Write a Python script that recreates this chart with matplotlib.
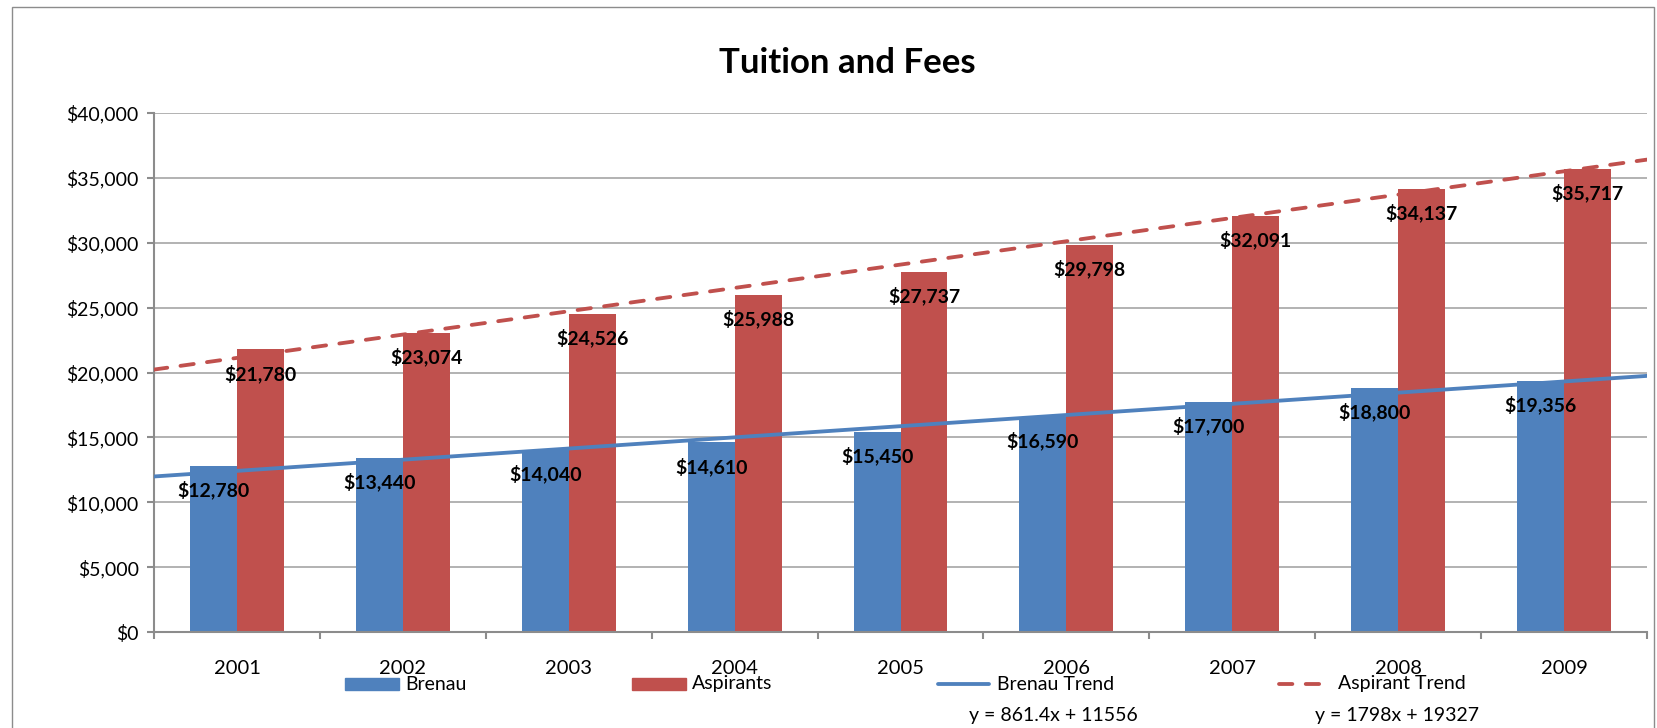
import matplotlib.pyplot as plt
import numpy as np
from matplotlib.patches import Rectangle
from matplotlib.lines import Line2D

# Data
years = ['2001', '2002', '2003', '2004', '2005', '2006', '2007', '2008', '2009']
brenau = [12780, 13440, 14040, 14610, 15450, 16590, 17700, 18800, 19356]
aspirants = [21780, 23074, 24526, 25988, 27737, 29798, 32091, 34137, 35717]
y_ticks = [0, 5000, 10000, 15000, 20000, 25000, 30000, 35000, 40000]

BLUE = '#4F81BD'
RED = '#C0504D'
GRID = '#A6A6A6'
AXIS = '#8C8C8C'
W, H = 1657, 728
FS = 14

plt.rcParams['font.family'] = ['Lato', 'DejaVu Sans']

fig = plt.figure(figsize=(W / 100, H / 100), dpi=100)
ax = fig.add_axes([154 / W, 1 - 632 / H, (1647 - 154) / W, (632 - 113) / H])

x = np.arange(1, len(years) + 1)
bw = 0.283
ax.bar(x - bw / 2, brenau, bw, color=BLUE, zorder=2)
ax.bar(x + bw / 2, aspirants, bw, color=RED, zorder=2)

# linear trend lines (Excel style, across the full plot width)
xs = np.array([0.5, len(years) + 0.5])
b_fit = np.polyfit(x, brenau, 1)
a_fit = np.polyfit(x, aspirants, 1)
ax.plot(xs, np.polyval(b_fit, xs), color=BLUE, lw=2.75, zorder=3)
ax.plot(xs, np.polyval(a_fit, xs), color=RED, lw=2.75, ls=(0, (3.5, 3.5)),
        dash_capstyle='round', zorder=3)

# data labels, inside end of bars
for xi, v in zip(x - bw / 2, brenau):
    ax.annotate(f'${v:,}', (xi, v), xytext=(0, -24), textcoords='offset pixels',
                ha='center', va='center', fontsize=FS, fontweight='bold', zorder=4)
for xi, v in zip(x + bw / 2, aspirants):
    ax.annotate(f'${v:,}', (xi, v), xytext=(0, -24), textcoords='offset pixels',
                ha='center', va='center', fontsize=FS, fontweight='bold', zorder=4)

ax.set_xlim(0.5, len(years) + 0.5)
ax.set_ylim(0, 40000)
ax.set_yticks(y_ticks)
ax.set_yticklabels([f'${t:,}' for t in y_ticks])
ax.yaxis.grid(True, color=GRID, lw=1.2)
ax.set_axisbelow(True)

ax.set_xticks(x)
ax.set_xticklabels(years)
ax.set_xticks(np.arange(0.5, len(years) + 1, 1), minor=True)
ax.tick_params(axis='x', which='major', length=0, pad=20, labelsize=FS + 0.5)
ax.tick_params(axis='x', which='minor', length=5, width=1.5, color=AXIS, direction='out')
ax.tick_params(axis='y', length=5, width=1.5, color=AXIS, pad=6, labelsize=FS)

for s in ['top', 'right']:
    ax.spines[s].set_visible(False)
for s in ['left', 'bottom']:
    ax.spines[s].set_color(AXIS)
    ax.spines[s].set_linewidth(1.5)

fig.text(847 / W, 1 - 63 / H, 'Tuition and Fees', ha='center', va='center',
         fontsize=25, fontweight='bold')

# outer chart border
fig.add_artist(Rectangle((12 / W, -0.05), (1654 - 12) / W, 1.05 - 7 / H,
                         transform=fig.transFigure, fill=False, edgecolor=AXIS, lw=1))

# legend, drawn by hand below the axis labels
ly = 1 - 684 / H
fig.add_artist(Rectangle((345 / W, 1 - 690 / H), 54 / W, 12 / H, color=BLUE,
                         transform=fig.transFigure))
fig.text(405 / W, ly, 'Brenau', va='center', fontsize=FS)
fig.add_artist(Rectangle((632 / W, 1 - 690 / H), 54 / W, 12 / H, color=RED,
                         transform=fig.transFigure))
fig.text(692 / W, ly, 'Aspirants', va='center', fontsize=FS)
fig.add_artist(Line2D([938 / W, 989 / W], [ly, ly], color=BLUE, lw=2.75,
                      solid_capstyle='round', transform=fig.transFigure))
fig.text(997 / W, ly, 'Brenau Trend', va='center', fontsize=FS)
fig.add_artist(Line2D([1279 / W, 1320 / W], [ly, ly], color=RED, lw=2.75,
                      ls=(0, (3.5, 3.5)), dash_capstyle='round', transform=fig.transFigure))
fig.text(1338 / W, ly, 'Aspirant Trend', va='center', fontsize=FS)

fig.text(1053 / W, 1 - 716 / H, f'y = {b_fit[0]:.4g}x + {b_fit[1]:.0f}',
         ha='center', va='center', fontsize=FS)
fig.text(1397 / W, 1 - 716 / H, f'y = {a_fit[0]:.4g}x + {a_fit[1]:.0f}',
         ha='center', va='center', fontsize=FS)

fig.savefig('out.png', dpi=100)
